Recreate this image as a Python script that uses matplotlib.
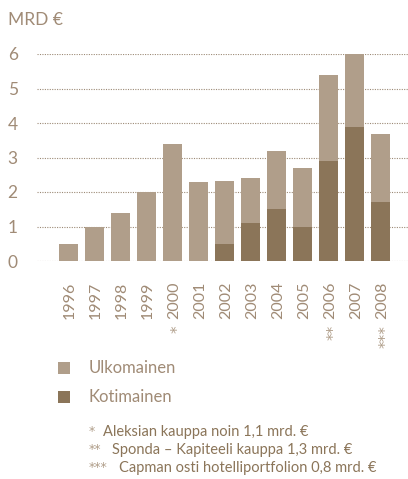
import matplotlib
matplotlib.use("Agg")
import matplotlib.pyplot as plt
from matplotlib.patches import Rectangle

years = ["1996", "1997", "1998", "1999", "2000", "2001", "2002",
         "2003", "2004", "2005", "2006", "2007", "2008"]
totals = [0.5, 1.0, 1.4, 2.0, 3.4, 2.3, 2.32, 2.41, 3.2, 2.7, 5.4, 6.0, 3.68]
kotimainen = [0, 0, 0, 0, 0, 0, 0.5, 1.1, 1.5, 1.0, 2.9, 3.88, 1.71]
ulkomainen = [t - k for t, k in zip(totals, kotimainen)]
yticks = [0, 1, 2, 3, 4, 5, 6]
marks = {"2000": "*", "2006": "**", "2008": "***"}
legend_labels = ["Ulkomainen", "Kotimainen"]
footnote_marks = ["*", "**", "***"]
footnotes = ["Aleksian kauppa noin 1,1 mrd. €",
             "Sponda – Kapiteeli kauppa 1,3 mrd. €",
             "Capman osti hotelliportfolion 0,8 mrd. €"]

LIGHT = "#b09e8a"
DARK = "#8b7559"
TXT = "#a08b76"
FONT = ["Lato", "DejaVu Sans"]
STAR = ["DejaVu Sans"]

W, H = 408, 479
fig = plt.figure(figsize=(W / 100, H / 100), dpi=100)
fig.patch.set_facecolor("white")

def fx(px):
    return px / W

def fy(py):
    return 1 - py / H

ax = fig.add_axes([fx(37), fy(261), fx(408) - fx(37), fy(54) - fy(261)])
x = list(range(len(years)))
ax.bar(x, kotimainen, width=0.73, color=DARK, zorder=3, linewidth=0)
ax.bar(x, ulkomainen, bottom=kotimainen, width=0.73, color=LIGHT, zorder=3, linewidth=0)

ax.set_xlim((37 - 68.5) / 26, (408 - 68.5) / 26)
ax.set_ylim(0, 6)
for s in ax.spines.values():
    s.set_visible(False)
ax.set_yticks(yticks)
ax.yaxis.grid(True, color="#9c8a76", linestyle=(0, (1, 1.2)), linewidth=0.8, zorder=1)
ax.tick_params(axis="y", length=0, pad=17.5, labelsize=12.5, labelcolor=TXT)
ax.set_yticklabels([str(v) for v in yticks])
for lab in ax.get_yticklabels():
    lab.set_horizontalalignment("center")
    lab.set_family(FONT)

ax.set_xticks([i + 0.06 for i in x])
ax.set_xticklabels(years, rotation=90, fontsize=11.5, color=TXT, family=FONT,
                   va="top", ha="center")
ax.tick_params(axis="x", length=0, pad=15)

for i, yr in enumerate(years):
    if yr in marks:
        ax.text(i + 0.2, -64 / 34.5, marks[yr], rotation=90, ha="center", va="top",
                fontsize=11, color=LIGHT, family=STAR, transform=ax.transData,
                clip_on=False)

fig.text(fx(8), fy(20), "MRD €", fontsize=12.5, color=TXT, family=FONT,
         ha="left", va="center")

# legend
for j, (lab, col) in enumerate(zip(legend_labels, [LIGHT, DARK])):
    cy = 368 + j * 29
    fig.patches.append(Rectangle((fx(58), fy(cy + 6)), fx(12), fy(cy - 6) - fy(cy + 6),
                                 transform=fig.transFigure, color=col, linewidth=0))
    fig.text(fx(89), fy(cy), lab, fontsize=12, color=TXT, family=FONT,
             ha="left", va="center")

# footnotes
starts = [103, 112, 119]
for j, (m, t) in enumerate(zip(footnote_marks, footnotes)):
    cy = 432 + j * 18
    fig.text(fx(89), fy(cy - 1), m, fontsize=9, color=LIGHT, family=STAR,
             ha="left", va="center")
    fig.text(fx(starts[j]), fy(cy), t, fontsize=10.5, color=DARK, family=FONT,
             ha="left", va="center")

fig.savefig("out.png", dpi=100, facecolor="white")
